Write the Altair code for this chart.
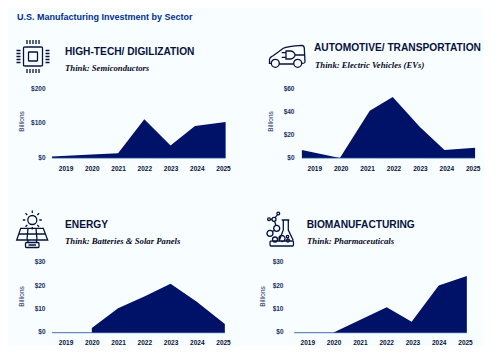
import re
import altair as alt
import pandas as pd

BG = "#f8fdff"
NAVY = "#001268"
INK = "#06123c"
AXIS_INK = "#1a3163"
EDGE = "#164a9a"
TITLE_BLUE = "#00308c"

CHART_TITLE = "U.S. Manufacturing Investment by Sector"
TICK_YEARS = [2019, 2020, 2021, 2022, 2023, 2024, 2025]

# x positions (areas overrun the year labels slightly)
x_tech = [2018.48, 2020, 2021, 2022, 2023, 2023.93, 2025.1]
y_tech = [4, 10, 14, 112, 36, 93, 104]
x_auto = [2018.53, 2019.97, 2021.1, 2021.97, 2023, 2023.93, 2025.09]
y_auto = [7, 0, 41, 53, 27, 7, 9]
x_energy = [2018.48, 2020, 2020, 2021, 2022, 2023, 2024, 2025.07]
y_energy = [0, 0, 2, 10.5, 15.5, 21, 13.3, 3.7]
x_bio = [2018.5, 2019.98, 2021, 2022.02, 2022.97, 2024, 2025.07]
y_bio = [0, 0, 5.4, 10.9, 4.7, 20.2, 24.3]


def circ(cx, cy, r):
    k = 0.5523 * r
    return (f"M{cx-r} {cy}C{cx-r} {cy-k} {cx-k} {cy-r} {cx} {cy-r}"
            f"C{cx+k} {cy-r} {cx+r} {cy-k} {cx+r} {cy}"
            f"C{cx+r} {cy+k} {cx+k} {cy+r} {cx} {cy+r}"
            f"C{cx-k} {cy+r} {cx-r} {cy+k} {cx-r} {cy}Z")


def rrect(x0, y0, x1, y1, r):
    return (f"M{x0+r} {y0}L{x1-r} {y0}C{x1} {y0} {x1} {y0} {x1} {y0+r}"
            f"L{x1} {y1-r}C{x1} {y1} {x1} {y1} {x1-r} {y1}"
            f"L{x0+r} {y1}C{x0} {y1} {x0} {y1} {x0} {y1-r}"
            f"L{x0} {y0+r}C{x0} {y0} {x0} {y0} {x0+r} {y0}Z")


ICON_R = 20.0


def unit(path):
    return re.sub(r"-?\d+\.?\d*(?:e-?\d+)?",
                  lambda m: f"{float(m.group())/ICON_R:.4f}", path)


pins = [-6, -3, 0, 3, 6]
ICON_CHIP = rrect(-9.5, -9.5, 9.5, 9.5, 2) + rrect(-4.5, -4.5, 4.5, 4.5, 0.5)
for p in pins:
    ICON_CHIP += f"M{p} -16.5L{p} -12.5M{p} 12.5L{p} 16.5M-16.5 {p}L-12.5 {p}M12.5 {p}L16.5 {p}"

ICON_CAR = (
    "M-15.2 6.8L-17 6.8L-17 3C-16.5 0 -15.8 0.8 -13 -1L-3.2 -8.2C0 -10 3.5 -10.5 15.2 -11.2"
    "C17 -11 17.8 -10 17.8 -8.2L18.5 5C18.5 6.5 18 6.8 15.5 6.8M-7 7.5L7 7.5"
    + circ(-11.2, 6.8, 4) + circ(11.2, 6.8, 4)
    + "M-0.5 -5.5L-0.5 2.5L4 2.5C6 2.5 8.5 0.5 8.5 -1.5C8.5 -3.5 6 -5.5 4 -5.5Z"
    "M-4.8 -3.8L-0.5 -3.8M-4.8 0.8L-0.5 0.8M8.5 -1.5L18.2 -1.5"
)

ICON_SOLAR = (
    circ(0.3, -10, 4.5)
    + "M0.3 -19.5L0.3 -17M0.3 -3L0.3 -0.5M-9.2 -10L-6.7 -10M7.3 -10L9.8 -10"
    "M-6.5 -16.8L-4.7 -15M5.3 -5L7.1 -3.2M7.1 -16.8L5.3 -15M-4.7 -5L-6.5 -3.2"
    "M-11.3 -1.7L11.3 -1.7L15.7 10L-15.3 10Z"
    "M-13.3 4L13.7 4M-4 -1.7L-5 10M4 -1.7L5 10"
    + rrect(-6.5, 12.5, 7, 17.5, 1)
    + "M-3.5 15L4 15M-4 10L-4 12.5M4.5 10L4.5 12.5"
)

ICON_BIO = (
    "M1.2 -9.5L8.8 -9.5M2.8 -9.5L2.8 0.5L-1.2 11M7.8 -9.5L7.8 0.5L12.8 11"
    + circ(-10.5, 3.8, 3) + circ(-3.8, -1.2, 3) + circ(-6.5, -10.2, 2)
    + circ(-2.2, -16, 1.4) + circ(-11.5, -10.2, 1.4)
    + "M-8 2L-6 0.5M-4.7 -4L-5.8 -8.3M-5.3 -11.8L-3 -14.8M-8.5 -10.2L-10.1 -10.2"
    + rrect(-10.5, 11.5, 13, 16.5, 2.5)
    + circ(-5.5, 10, 2.5) + circ(1.5, 9, 3) + circ(7, 7, 1.2) + circ(7.5, 11, 1.5)
)

FONT = "Liberation Sans"


def label(text, x, y, size, color=INK, weight="bold", font=FONT, style="normal"):
    return alt.Chart(pd.DataFrame({"t": [text]})).mark_text(
        align="left", baseline="middle", font=font, fontSize=size,
        fontWeight=weight, fontStyle=style, color=color,
    ).encode(text="t:N", x=alt.value(x), y=alt.value(y))


def panel(size, xs, ys, ymax, ystep, xrange, yrange, xoff, yaxis_off, billions, head, sub, icon, extras=()):
    df = pd.DataFrame({"x": xs, "v": ys, "base": [0] * len(xs)})
    xscale = alt.Scale(domain=[2019, 2025], range=xrange, nice=False, zero=False)
    yscale = alt.Scale(domain=[0, ymax], range=yrange, nice=False)
    base = alt.Chart(df)
    area = base.mark_area(color=NAVY, interpolate="linear").encode(
        x=alt.X("x:Q", scale=xscale, axis=alt.Axis(
            values=TICK_YEARS, tickCount=7, format="d", grid=False, domain=False, ticks=False,
            labelFont=FONT, labelFontSize=6.5, labelColor=INK, labelFontWeight="bold",
            labelPadding=2, offset=xoff, title=None, labelFlush=False, labelOverlap=False)),
        y=alt.Y("v:Q", scale=yscale, axis=alt.Axis(
            values=list(range(0, ymax + 1, ystep)), format="$d", grid=False, domain=False,
            ticks=False, labelFont=FONT, labelFontSize=6.5, labelColor=AXIS_INK,
            labelFontWeight="bold", labelPadding=3, labelOffset=-1, offset=yaxis_off,
            title="Billions", titleFont=FONT, titleFontSize=6.5, titleFontWeight="normal",
            titleColor=AXIS_INK, titleX=billions[0], titleY=billions[1], titleAngle=270,
            titleAlign="center", titleBaseline="middle")),
    )
    edge = base.mark_line(color=EDGE, strokeWidth=0.8).encode(
        x=alt.X("x:Q", scale=xscale), y=alt.Y("base:Q", scale=yscale))
    glyph = alt.Chart(pd.DataFrame({"k": [0]})).mark_point(
        shape=unit(icon[0]), size=(2 * ICON_R) ** 2, filled=False,
        stroke=INK, strokeWidth=1.3, opacity=1,
    ).encode(x=alt.value(icon[1]), y=alt.value(icon[2]))
    return alt.layer(
        area, edge, glyph,
        label(head[0], head[1], head[2], head[3]),
        label(sub[0], sub[1], sub[2], sub[3], color="#0a0a1e",
              font="Liberation Serif", style="italic"),
        *extras,
    ).resolve_scale(x="shared", y="shared").properties(width=size[0], height=size[1])


p1 = panel((246, 176), x_tech, y_tech, 200, 100, [57.6, 215], [150, 81], -21, -40, (-27, 113),
           ("HIGH-TECH/ DIGILIZATION", 57, 43.5, 10.2),
           ("Think: Semiconductors", 57, 59.5, 8.7),
           (ICON_CHIP, 25, 48.5),
           extras=[label(CHART_TITLE, 9, 9, 9, color=TITLE_BLUE)])
p2 = panel((230, 176), x_auto, y_auto, 60, 20, [60.3, 218.7], [150, 81], -21, -43, (-27, 113),
           ("AUTOMOTIVE/ TRANSPORTATION", 60, 40, 10.2),
           ("Think: Electric Vehicles (EVs)", 61, 57, 8.7),
           (ICON_CAR, 32.5, 48.5))
p3 = panel((246, 160), x_energy, y_energy, 30, 10, [57.6, 215], [148.7, 78.7], -7, -40, (-27, 112),
           ("ENERGY", 57, 40.7, 10.2),
           ("Think: Batteries & Solar Panels", 57, 56.5, 8.7),
           (ICON_SOLAR, 24, 46))
p4 = panel((230, 160), x_bio, y_bio, 30, 10, [53.3, 211], [148.7, 78.7], -7, -32, (-24, 112),
           ("BIOMANUFACTURING", 52.7, 40.7, 10.2),
           ("Think: Pharmaceuticals", 53, 56.5, 8.7),
           (ICON_BIO, 26.5, 45.5))

chart = alt.hconcat(
    alt.vconcat(p1, p3, spacing=0),
    alt.vconcat(p2, p4, spacing=0),
    spacing=0, padding=0, background=BG,
).resolve_scale(x="independent", y="independent").configure_view(stroke=None)

chart.save("out.html", embed_options={"renderer": "svg", "actions": False})
